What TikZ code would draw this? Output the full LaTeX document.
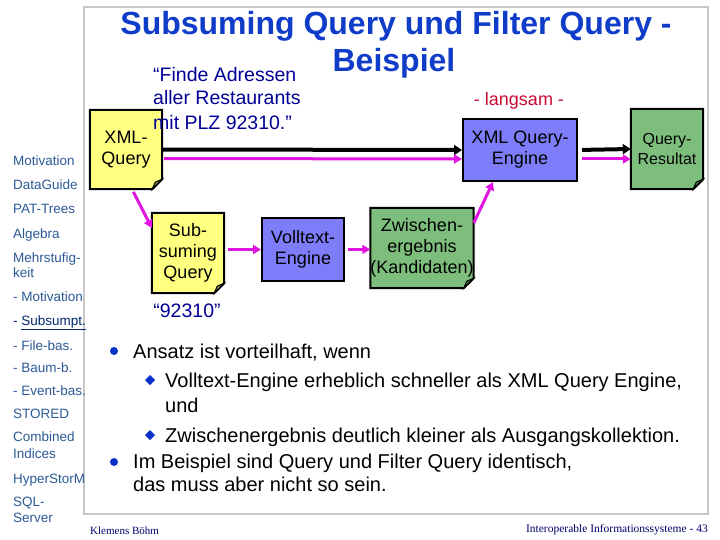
\documentclass[tikz,border=0pt]{standalone}
\usepackage{fontspec}
\setmainfont{Liberation Sans}
\newfontfamily\footserif{Liberation Serif}
\usetikzlibrary{arrows.meta}
\pgfdeclarelayer{background}
\pgfdeclarelayer{canvas}
\pgfsetlayers{canvas,background,main}
\definecolor{ttlblue}{RGB}{15,60,200}
\definecolor{quoteblue}{RGB}{0,0,150}
\definecolor{sideblue}{RGB}{45,90,150}
\definecolor{navy}{RGB}{0,40,110}
\definecolor{crimson}{RGB}{200,10,50}
\definecolor{mag}{RGB}{225,20,225}
\definecolor{noteyellow}{RGB}{255,255,128}
\definecolor{boxblue}{RGB}{125,125,250}
\definecolor{boxgreen}{RGB}{125,190,125}
\definecolor{framegray}{RGB}{200,200,200}
\definecolor{bulletblue}{RGB}{10,50,200}
\definecolor{footblue}{RGB}{0,0,110}
\newcommand\foldnote[2]{%
  \begin{pgfonlayer}{background}
  \draw[line width=2pt, fill=#2, line join=miter]
    (#1.north west) -- (#1.north east) -- ([yshift=10pt]#1.south east)
    -- ([xshift=-10pt]#1.south east) -- (#1.south west) -- cycle;
  \draw[line width=1pt, fill=#2!60!black]
    ([xshift=-10pt]#1.south east) -- ([xshift=-7pt,yshift=7pt]#1.south east)
    -- ([yshift=10pt]#1.south east) -- cycle;
  \end{pgfonlayer}}
\begin{document}
\begin{tikzpicture}[x=1pt,y=-1pt,
  side/.style={anchor=base west, text=sideblue, inner sep=0, font=\fontsize{13.5}{15}\selectfont},
  boxtext/.style={inner sep=0, align=center, font=\fontsize{18}{21}\selectfont},
  rectbox/.style={boxtext, draw, line width=2pt},
  notebox/.style={boxtext},
  body/.style={anchor=base west, inner sep=0, font=\fontsize{20}{22}\selectfont},
  quote/.style={anchor=base west, inner sep=0, text=quoteblue, font=\fontsize{19.5}{22}\selectfont},
  blk/.style={line width=4pt, -{Triangle[length=8pt,width=10pt]}},
  magarr/.style={line width=3pt, mag, -{Triangle[length=8pt,width=9pt]}}]
\useasboundingbox (0,0) rectangle (720,540);
\begin{pgfonlayer}{canvas}
\fill[white] (0,0) rectangle (720,540);
\end{pgfonlayer}
% frame
\draw[framegray, line width=2pt] (84,7) rectangle (708,514);
% sidebar
\node[side] (s1) at (13,166) {Motivation};
\node[side] (s2) at (13,190) {DataGuide};
\node[side] (s3) at (13,214) {PAT-Trees};
\node[side] (s4) at (13,238) {Algebra};
\node[side] (s5) at (13,262) {Mehrstufig-};
\node[side] (s5b) at (13,277) {keit};
\node[side] (s6) at (13,301) {- Motivation};
\node[side, text=navy] (s7) at (13,325) {- \underline{Subsumpt.}};
\node[side] (s8) at (13,350) {- File-bas.};
\node[side] (s9) at (13,372) {- Baum-b.};
\node[side] (s10) at (13,395) {- Event-bas.};
\node[side] (s11) at (13,418) {STORED};
\node[side] (s12) at (13,441) {Combined};
\node[side] (s12b) at (13,458) {Indices};
\node[side] (s13) at (13,483) {HyperStorM};
\node[side] (s14) at (13,506) {SQL-};
\node[side] (s14b) at (13,522) {Server};
% title
\node[anchor=base, inner sep=0, text=ttlblue, font=\fontsize{32}{36}\selectfont\bfseries] (t1) at (396,35) {Subsuming Query und Filter Query -};
\node[anchor=base, inner sep=0, text=ttlblue, font=\fontsize{32}{36}\selectfont\bfseries] (t2) at (394,72) {Beispiel};
% quote
\node[quote] (q1) at (153,82) {“Finde Adressen};
\node[quote] (q2) at (153,105) {aller Restaurants};
\node[quote] (q3) at (153,130) {mit PLZ 92310.”};
% boxes
\node[notebox, minimum width=72pt, minimum height=79pt] (xq) at (126,149.5) {XML-\\Query};
\foldnote{xq}{noteyellow}
\node[rectbox, fill=boxblue, minimum width=114pt, minimum height=62pt] (eng) at (520,150) {XML Query-\\Engine};
\node[anchor=base, inner sep=0, text=crimson, font=\fontsize{18}{21}\selectfont] (slow) at (519,106) {- langsam -};
\node[notebox, minimum width=72pt, minimum height=80pt, font=\fontsize{16}{20}\selectfont] (res) at (667,149) {Query-\\Resultat};
\foldnote{res}{boxgreen}
\node[notebox, minimum width=72pt, minimum height=80pt] (sub) at (188,253) {Sub-\\suming\\Query};
\foldnote{sub}{noteyellow}
\node[anchor=base, inner sep=0, text=quoteblue, font=\fontsize{19.5}{22}\selectfont] (plz) at (187,317) {“92310”};
\node[rectbox, fill=boxblue, minimum width=82pt, minimum height=63pt] (voll) at (303,249.5) {Volltext-\\Engine};
\node[notebox, minimum width=100pt, minimum height=80pt] (zw) at (422,248) {Zwischen-\\ergebnis\\(Kandidaten)};
\foldnote{zw}{boxgreen}
% connectors
\draw[blk] (xq.east) -- (eng.west);
\draw[magarr, shorten <=2pt] ([yshift=-9pt]xq.east) -- ([yshift=-9pt]eng.west);
\draw[blk, shorten <=4pt] (eng.east) -- (res.west);
\draw[magarr, shorten <=4pt] ([yshift=-9pt]eng.east) -- ([yshift=-10pt]res.west);
\draw[magarr, shorten <=3pt] ([xshift=6pt]xq.south) -- ([yshift=25pt]sub.west);
\draw[magarr, shorten <=4pt] (sub.east |- voll.west) -- (voll.west);
\draw[magarr, shorten <=3pt] (voll.east) -- (voll.east -| zw.west);
\draw[magarr] ([yshift=25pt]zw.east) -- ([xshift=-27pt]eng.south);
% bullets
\fill[bulletblue] (114,351) circle (4pt);
\node[body] (b1) at (133,358) {Ansatz ist vorteilhaft, wenn};
\fill[bulletblue] (150,375) -- (155,380) -- (150,385) -- (145,380) -- cycle;
\node[body] (b2) at (165,387) {Volltext-Engine erheblich schneller als XML Query Engine,};
\node[body] (b2b) at (165,412) {und};
\fill[bulletblue] (150,430) -- (155,435) -- (150,440) -- (145,435) -- cycle;
\node[body] (b3) at (165,442) {Zwischenergebnis deutlich kleiner als Ausgangskollektion.};
\fill[bulletblue] (114,462) circle (4pt);
\node[body] (b4) at (133,468) {Im Beispiel sind Query und Filter Query identisch,};
\node[body] (b4b) at (133,491) {das muss aber nicht so sein.};
% footer
\node[anchor=base west, inner sep=0, text=footblue, font=\footserif\fontsize{11}{13}\selectfont] (f1) at (90,534) {Klemens Böhm};
\node[anchor=base east, inner sep=0, text=footblue, font=\footserif\fontsize{11.5}{13}\selectfont] (f2) at (708,532) {Interoperable Informationssysteme - 43};
\end{tikzpicture}
\end{document}
